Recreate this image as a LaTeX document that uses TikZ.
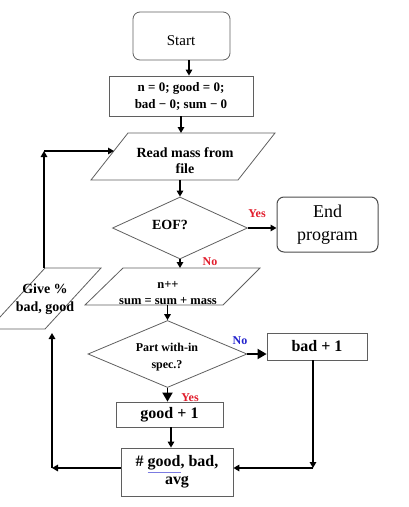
\documentclass[tikz,border=0pt]{standalone}
\usepackage{fontspec}
\setmainfont{Liberation Serif}
\usetikzlibrary{shapes.geometric,arrows.meta}
\definecolor{bord}{RGB}{95,95,95}
\definecolor{lblred}{RGB}{225,30,45}
\definecolor{lblblue}{RGB}{35,35,205}
\begin{document}
\begin{tikzpicture}[x=1pt,y=-1pt,
  shapeline/.style={draw=bord, line width=0.8pt},
  boxnode/.style={shapeline, rectangle, inner sep=0pt, align=center},
  roundbox/.style={boxnode, rounded corners=7pt},
  dia/.style={shapeline, diamond, inner sep=0pt},
  txt/.style={align=center, inner sep=0pt},
  conn/.style={line width=1.8pt, -{Triangle[length=6pt,width=6.5pt]}},
  bigconn/.style={line width=1.8pt, -{Triangle[length=9pt,width=10pt]}},
  lbl/.style={font=\fontsize{12}{14}\selectfont\bfseries, inner sep=0pt}]
\useasboundingbox (0,0) rectangle (408,507);
\clip (0,0) rectangle (408,507);

% Start
\node[roundbox, minimum width=97pt, minimum height=48pt] (start) at (181.5,36) {};
\node[txt, font=\fontsize{15}{18}\selectfont] (starttxt) at (181,41) {Start};
% Init
\node[boxnode, minimum width=144pt, minimum height=40pt, font=\fontsize{13}{17}\selectfont\bfseries] (init) at (181,96) {n = 0; good = 0;\\bad − 0; sum − 0};
% Read parallelogram
\coordinate (rdTL) at (128,133);
\coordinate (rdTR) at (275,133);
\coordinate (rdBR) at (238,180);
\coordinate (rdBL) at (91,180);
\draw[shapeline] (rdTL) -- (rdTR) -- (rdBR) -- (rdBL) -- cycle;
\node[txt, font=\fontsize{14}{16}\selectfont\bfseries] (readtxt) at (185,161) {Read mass from\\file};
\coordinate (rdL) at (114,151);
% EOF diamond
\node[dia, minimum width=135pt, minimum height=62pt] (eof) at (180,228) {};
\node[txt, font=\fontsize{14}{16}\selectfont\bfseries] (eoftxt) at (170,225) {EOF?};
% End program
\node[roundbox, draw=bord!80!black, line width=1pt, minimum width=101pt, minimum height=55pt, font=\fontsize{18}{23}\selectfont] (endp) at (327.5,224.5) {End\\program};
% n++ parallelogram
\coordinate (npTL) at (123,268);
\coordinate (npTR) at (260,268);
\coordinate (npBR) at (223,305);
\coordinate (npBL) at (85,305);
\draw[shapeline] (npTL) -- (npTR) -- (npBR) -- (npBL) -- cycle;
\node[txt, font=\fontsize{12.5}{16}\selectfont\bfseries] (nptxt) at (168,293) {n++\\sum = sum + mass};
% Give parallelogram
\coordinate (gvTL) at (45,268);
\coordinate (gvTR) at (101,268);
\coordinate (gvBR) at (45,329);
\coordinate (gvBL) at (-11,329);
\draw[shapeline] (gvTL) -- (gvTR) -- (gvBR) -- (gvBL) -- cycle;
\node[txt, font=\fontsize{14}{18}\selectfont\bfseries] (gvtxt) at (45,299) {Give \%\\bad, good};
% Spec diamond
\node[dia, minimum width=159pt, minimum height=67pt] (spec) at (167.5,354) {};
\node[txt, font=\fontsize{12}{17}\selectfont\bfseries] (spectxt) at (167,357) {Part with-in\\spec.?};
% bad + 1
\node[boxnode, minimum width=100pt, minimum height=27pt, font=\fontsize{16}{19}\selectfont\bfseries] (bad) at (317,346.5) {bad + 1};
% good + 1
\node[boxnode, minimum width=107pt, minimum height=25pt, font=\fontsize{16}{19}\selectfont\bfseries] (good) at (169.5,414.5) {good + 1};
% result
\node[boxnode, minimum width=112pt, minimum height=48pt, font=\fontsize{16}{18}\selectfont\bfseries] (res) at (177,472) {\# {\color{lblblue!60}$\underline{\hbox{\color{black}good}}$}, bad,\\avg};

% helper coordinates
\coordinate (brc) at (313,468);
\coordinate (lbc) at (52,468);
\coordinate (gvB) at (52,333);
\coordinate (gvT) at (44,268);
\coordinate (ltc) at (44,151);

% connectors
\draw[conn] ([xshift=7.5pt]start.south) -- ([xshift=7.5pt]start.south |- init.north);
\draw[conn] (init.south) -- (init.south |- rdTL);
\draw[conn] (eof.north |- rdBL) -- (eof.north);
\draw[conn] (eof.east) -- (eof.east -| endp.west);
\draw[conn] (eof.south) -- (eof.south |- npTL);
\draw[conn] (spec.north |- npBL) -- (spec.north);
\draw[bigconn] (spec.east) -- (spec.east -| bad.west);
\draw[bigconn] (spec.south) -- (spec.south |- good.north);
\draw[conn] ([xshift=1.5pt]good.south) -- ([xshift=1.5pt]good.south |- res.north);
\draw[conn] (bad.south -| brc) -- (brc);
\draw[conn] (brc) -- (brc -| res.east);
\draw[conn] (lbc -| res.west) -- (lbc);
\draw[conn] (lbc) -- (gvB);
\draw[conn] (gvT) -- (ltc);
\draw[conn] (ltc) -- (rdL);

% labels
\node[lbl, text=lblred] (yes1) at (257,214) {Yes};
\node[lbl, text=lblred] (no1) at (210,262) {No};
\node[lbl, text=lblblue] (no2) at (240,341) {No};
\node[lbl, text=lblred] (yes2) at (190,398) {Yes};
\end{tikzpicture}
\end{document}
